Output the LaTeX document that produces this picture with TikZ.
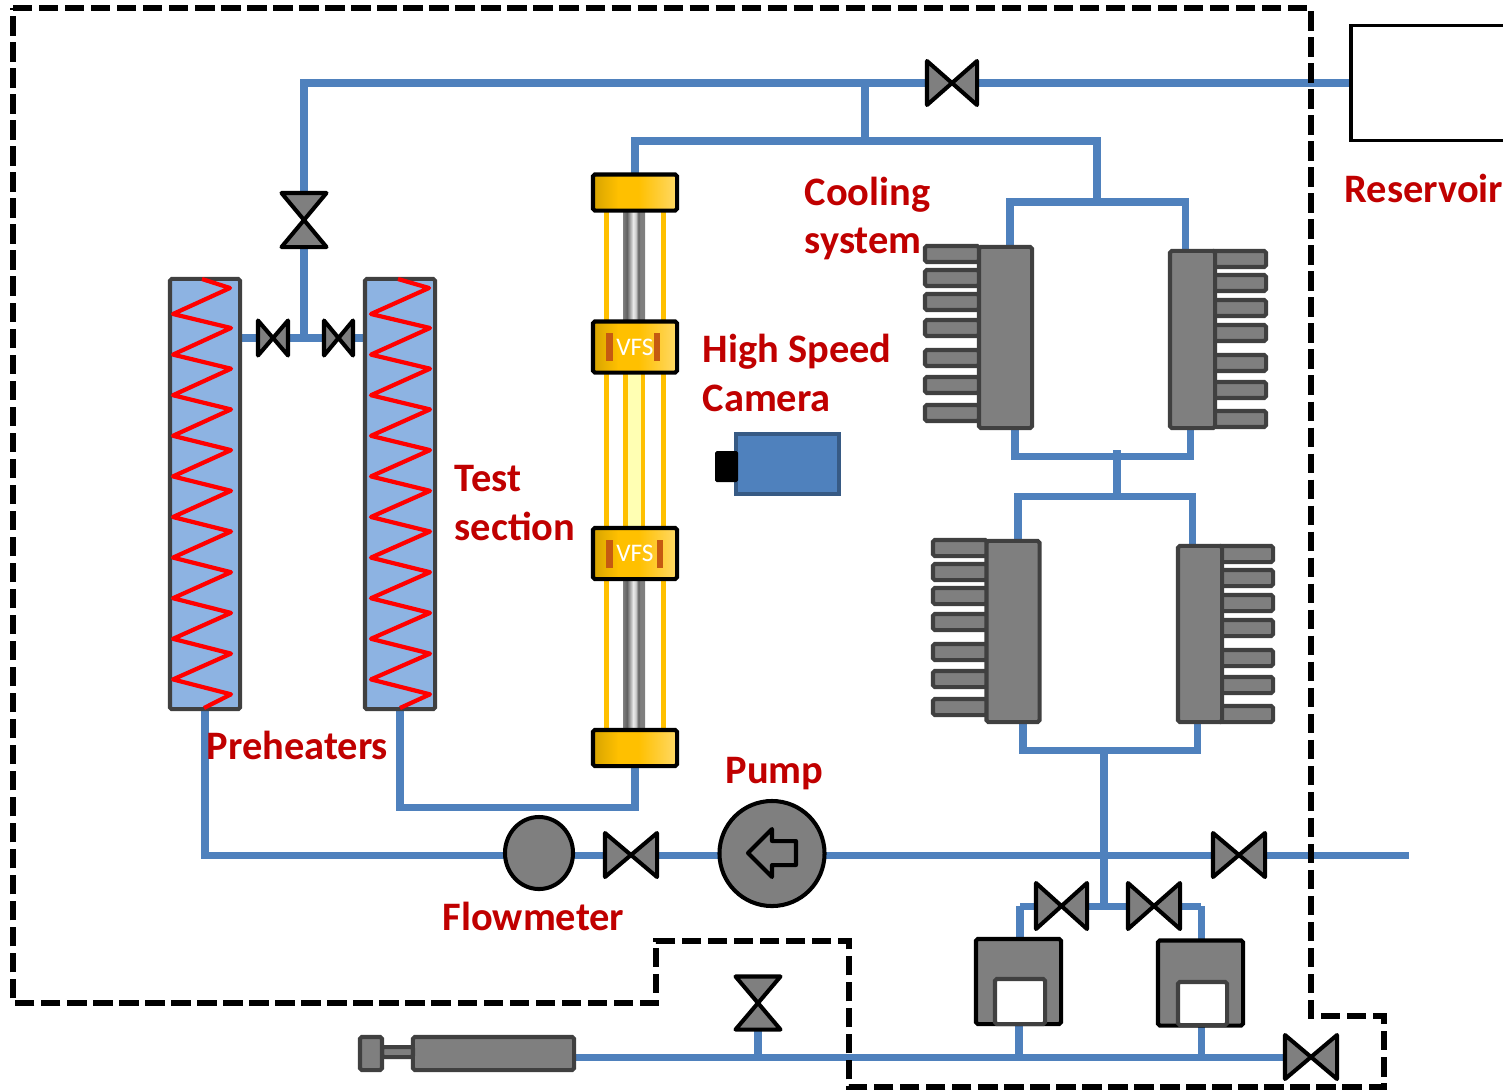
\documentclass[tikz,border=0pt]{standalone}
\usepackage{fontspec}
\setmainfont{Carlito}
\usetikzlibrary{
	shapes.geometric,
	backgrounds
}

\definecolor{pipeblue}{HTML}{4F81BD}
\definecolor{heaterblue}{HTML}{8DB3E2}
\definecolor{partgray}{HTML}{7F7F7F}
\definecolor{edgegray}{HTML}{404040}
\definecolor{labelred}{HTML}{C00000}
\definecolor{flangedark}{HTML}{D6A300}
\definecolor{flangemid}{HTML}{FFC000}
\definecolor{flangelight}{HTML}{FFD966}
\definecolor{vfsbar}{HTML}{C55A11}
\definecolor{glasslight}{HTML}{FFFFB3}

\pgfdeclarehorizontalshading{flangeshade}{100bp}{
	color(0bp)=(flangedark); color(25bp)=(flangedark); color(40bp)=(flangemid);
	color(52bp)=(flangemid); color(75bp)=(flangelight); color(100bp)=(flangelight)}
\pgfdeclarehorizontalshading{tubeshade}{100bp}{
	color(0bp)=(partgray); color(25bp)=(partgray); color(34bp)=(black!62);
	color(48bp)=(white!92!black); color(54bp)=(white!80!black); color(60bp)=(black!62); color(64bp)=(partgray);
	color(75bp)=(partgray); color(100bp)=(partgray)}

\tikzset{
	pipe/.style={draw=pipeblue,line width=2pt},
	boundary/.style={draw=black,line width=1.5pt,dash pattern=on 5.5pt off 1.9pt},
	coil/.style={draw=red,line width=1.2pt,line join=round},
	valveline/.style={draw=black,line width=1.15pt,fill=partgray,line join=round},
	valvebox/.style={inner sep=0pt,outer sep=0pt},
	part/.style={draw=edgegray,line width=1.15pt,fill=partgray,rounded corners=0.5pt,inner sep=0pt,outer sep=0pt},
	heater/.style={part,fill=heaterblue,minimum width=0.7cm,minimum height=4.3cm},
	fin/.style={part,minimum width=0.54cm,minimum height=0.16cm},
	flange/.style={draw=black,line width=1.15pt,shading=flangeshade,rounded corners=0.5pt,inner sep=0pt,outer sep=0pt,minimum width=0.84cm},
	vfsbox/.style={flange,minimum height=0.51cm,text=white,font=\fontsize{7.2}{8}\selectfont},
	bar/.style={fill=vfsbar,inner sep=0pt,minimum width=0.065cm,minimum height=0.28cm},
	rod/.style={fill=flangemid,inner sep=0pt,minimum width=0.05cm},
	tube/.style={shading=tubeshade,inner sep=0pt,minimum width=0.22cm},
	tank/.style={draw=black,line width=1.15pt,fill=partgray,rounded corners=0.5pt,inner sep=0pt,outer sep=0pt,minimum width=0.85cm,minimum height=0.85cm},
	tankhole/.style={draw=edgegray,line width=1.15pt,fill=white,rounded corners=0.5pt,inner sep=0pt,outer sep=0pt},
	redlabel/.style={text=labelred,anchor=west,align=left,inner sep=0pt,font=\fontsize{11.5}{13.9}\selectfont\bfseries}
}

\newcommand{\valveh}[5]{
	\node[valvebox,minimum width=#4cm,minimum height=#5cm] (#1) at (#2,#3) {};
	\draw[valveline] (#1.north west)--(#1.south east)--(#1.north east)--(#1.south west)--cycle;
}
\newcommand{\valvev}[4]{
	\node[valvebox,minimum width=0.45cm,minimum height=#4cm] (#1) at (#2,#3) {};
	\draw[valveline] (#1.north west)--(#1.north east)--(#1.south west)--(#1.south east)--cycle;
}

\begin{document}
\begin{tikzpicture}[x=0.01cm,y=-0.01cm]
			
			\useasboundingbox (0,0) rectangle (1503,1090);
			\clip (0,0) rectangle (1503,1090);
			
			\draw[boundary] (13,8)--(1311,8)--(1311,1016)--(1384,1016)--(1384,1087)--(849,1087)--(849,941)--(656,941)--(656,1003)--(13,1003)--cycle;
			
			\node[draw=black,line width=0.9pt,fill=white,inner sep=0pt,outer sep=0pt,minimum width=2cm,minimum height=1.15cm] (reservoir) at (1451,83) {};
			
			\node[heater] (heatera) at (205,494) {};
			\node[heater] (heaterb) at (400,494) {};
			\draw[coil] (202,279)--(230,288) foreach \k in {0,...,9} {--(173,{314+40.6*\k})--(231,{328+40.7*\k})}--(204,708);
			\draw[coil] (398,279)--(429,288) foreach \k in {0,...,9} {--(371,{314+40.6*\k})--(430,{328+40.7*\k})}--(400,708);
			
			\node[rod,minimum height=5.2cm] (roda) at (606.5,470) {};
			\node[rod,minimum height=5.2cm] (rodb) at (663.5,470) {};
			\node[tube,minimum height=1.1cm] (tubea) at (634,267) {};
			\node[tube,minimum height=1.5cm] (tubeb) at (634,654) {};
			\node[fill=flangemid,inner sep=0pt,minimum width=0.22cm,minimum height=1.56cm] (glass) at (634,450) {};
			\node[fill=glasslight,inner sep=0pt,minimum width=0.13cm,minimum height=1.56cm] (glassin) at (634.5,450) {};
			
			\node[flange,minimum height=0.36cm] (flangea) at (635,192.5) {};
			\node[flange,minimum height=0.36cm] (flangeb) at (635,748) {};
			\node[vfsbox] (vfsa) at (635,347) {VFS};
			\node[vfsbox] (vfsb) at (635,553.5) {VFS};
			\node[bar] (bara) at (609.5,347) {};
			\node[bar] (barb) at (657,347) {};
			\node[bar] (barc) at (609.5,553.5) {};
			\node[bar] (bard) at (660,553.5) {};
			
			\node[draw=pipeblue!70!black,line width=1.15pt,fill=pipeblue,inner sep=0pt,minimum width=1.03cm,minimum height=0.6cm] (camera) at (787.5,464) {};
			\node[fill=black,rounded corners=0.5pt,inner sep=0pt,minimum width=0.23cm,minimum height=0.31cm] (lens) at (726.5,466.5) {};
			
			\foreach \y in {254,278,302,328,358,385,413} \node[fin] (fina\y) at (952,\y) {};
			\foreach \y in {259,283,308,333,363,390,419} \node[fin] (finb\y) at (1239,\y) {};
			\foreach \y in {548,572,596,622,652,679,707} \node[fin] (finc\y) at (960,\y) {};
			\foreach \y in {554,578,603,628,658,685,714} \node[fin] (find\y) at (1246,\y) {};
			\node[part,minimum width=0.53cm,minimum height=1.81cm] (coola) at (1005.5,337.5) {};
			\node[part,minimum width=0.45cm,minimum height=1.77cm] (coolb) at (1192.5,339.5) {};
			\node[part,minimum width=0.53cm,minimum height=1.81cm] (coolc) at (1013,631.5) {};
			\node[part,minimum width=0.44cm,minimum height=1.76cm] (coold) at (1200,634) {};
			
			\node[ellipse,draw=black,line width=1.15pt,fill=partgray,inner sep=0pt,outer sep=0pt,minimum width=0.68cm,minimum height=0.72cm] (flowmeter) at (539,853) {};
			\node[circle,draw=black,line width=1.15pt,fill=partgray,inner sep=0pt,outer sep=0pt,minimum size=1.05cm] (pump) at (772,853.5) {};
			\draw[draw=black,line width=1.15pt,line join=round] (748,853)--(772,829)--(772,841)--(796,841)--(796,865)--(772,865)--(772,877)--cycle;
			
			\node[tank] (tanka) at (1018.5,981.5) {};
			\node[tankhole,minimum width=0.5cm,minimum height=0.45cm] (holea) at (1020,1001.5) {};
			\node[tank] (tankb) at (1200.5,983) {};
			\node[tankhole,minimum width=0.49cm,minimum height=0.43cm] (holeb) at (1202.5,1003.5) {};
			
			\node[part,minimum width=1.61cm,minimum height=0.33cm] (syringe) at (493.5,1053.5) {};
			\node[part,minimum width=0.31cm,minimum height=0.1cm] (plunger) at (397.5,1052) {};
			\node[part,minimum width=0.22cm,minimum height=0.33cm] (syringehead) at (371,1053.5) {};
			
			\valveh{valvetop}{952}{83}{0.5}{0.44}
			\valvev{valvemain}{304}{220}{0.54}
			\valveh{valveheata}{273}{338}{0.3}{0.35}
			\valveh{valveheatb}{338.5}{338}{0.29}{0.35}
			\valveh{valveflow}{631}{855}{0.52}{0.44}
			\valveh{valvedrain}{1239}{855}{0.52}{0.44}
			\valveh{valvetanka}{1061.5}{906}{0.51}{0.46}
			\valveh{valvetankb}{1154}{906}{0.52}{0.46}
			\valvev{valvelow}{758}{1003}{0.53}
			\valveh{valveend}{1311}{1057}{0.52}{0.44}
			
			\coordinate (teetop) at (865,83);
			\coordinate (teecool) at (865,141);
			\coordinate (cornerfeed) at (635,141);
			\coordinate (cornercool) at (1097,141);
			\coordinate (splita) at (1097,202);
			\coordinate (splital) at (1010,202);
			\coordinate (splitar) at (1185,202);
			\coordinate (mergeal) at (1015,456);
			\coordinate (mergear) at (1190,456);
			\coordinate (crossa) at (1117,450);
			\coordinate (crossb) at (1117,496);
			\coordinate (splitbl) at (1018,496);
			\coordinate (splitbr) at (1192,496);
			\coordinate (mergebl) at (1023,750);
			\coordinate (mergebr) at (1197,750);
			\coordinate (mergeb) at (1104,750);
			\coordinate (teetank) at (1104,906);
			\coordinate (cornertanka) at (1020,906);
			\coordinate (cornertankb) at (1201,906);
			\coordinate (teemid) at (304,338);
			\coordinate (cornerheata) at (205,855);
			\coordinate (cornerheatb) at (400,807);
			\coordinate (cornerflange) at (635,807);
			\coordinate (lineend) at (1409,855);
			\coordinate (teelow) at (758,1057);
			\coordinate (teetanka) at (1019,1057);
			\coordinate (teetankb) at (1201,1057);
			
			\begin{scope}[on background layer]
				\draw[pipe] (valvemain.north)|-(valvetop.west);
				\draw[pipe] (valvetop.east)--(valvetop.east-|reservoir.west);
				\draw[pipe] (teetop)--(teecool);
				\draw[pipe] (flangea.north)--(cornerfeed)--(cornercool)--(splita);
				\draw[pipe] (coola.north-|splital)--(splital)--(splitar)--(coolb.north-|splitar);
				\draw[pipe] (coola.south-|mergeal)--(mergeal)--(mergear)--(coolb.south-|mergear);
				\draw[pipe] (crossa)--(crossb);
				\draw[pipe] (coolc.north-|splitbl)--(splitbl)--(splitbr)--(coold.north-|splitbr);
				\draw[pipe] (coolc.south-|mergebl)--(mergebl)--(mergebr)--(coold.south-|mergebr);
				\draw[pipe] (mergeb)--(teetank);
				\draw[pipe] (valvemain.south)--(teemid);
				\draw[pipe] (heatera.east|-teemid)--(valveheata.west);
				\draw[pipe] (valveheata.east)--(valveheatb.west);
				\draw[pipe] (valveheatb.east)--(heaterb.west|-teemid);
				\draw[pipe] (heatera.south)--(cornerheata)--(flowmeter.west|-cornerheata);
				\draw[pipe] (heaterb.south)--(cornerheatb)--(cornerflange)--(flangeb.south);
				\draw[pipe] (flowmeter.east|-valveflow)--(valveflow.west);
				\draw[pipe] (valveflow.east)--(pump.west|-valveflow);
				\draw[pipe] (pump.east|-valvedrain)--(valvedrain.west);
				\draw[pipe] (valvedrain.east)--(lineend);
				\draw[pipe] (cornertanka)--(valvetanka.west);
				\draw[pipe] (valvetanka.east)--(valvetankb.west);
				\draw[pipe] (valvetankb.east)--(cornertankb);
				\draw[pipe] (cornertanka)--(tanka.north-|cornertanka);
				\draw[pipe] (cornertankb)--(tankb.north-|cornertankb);
				\draw[pipe] (syringe.east|-valveend)--(valveend.west);
				\draw[pipe] (valvelow.south)--(teelow);
				\draw[pipe] (tanka.south-|teetanka)--(teetanka);
				\draw[pipe] (tankb.south-|teetankb)--(teetankb);
			\end{scope}
			
			\node[redlabel] (lblcooling) at (804,218.5) {Cooling\\system};
			\node[redlabel] (lblspeed) at (702,373) {High Speed\\Camera};
			\node[redlabel] (lbltest) at (454,503) {Test\\section};
			\node[redlabel] (lblreservoir) at (1344,188) {Reservoir};
			\node[redlabel] (lblpreheaters) at (206,745) {Preheaters};
			\node[redlabel] (lblpump) at (725,774) {Pump};
			\node[redlabel] (lblflow) at (442,916) {Flowmeter};
			
		\end{tikzpicture}
\end{document}
